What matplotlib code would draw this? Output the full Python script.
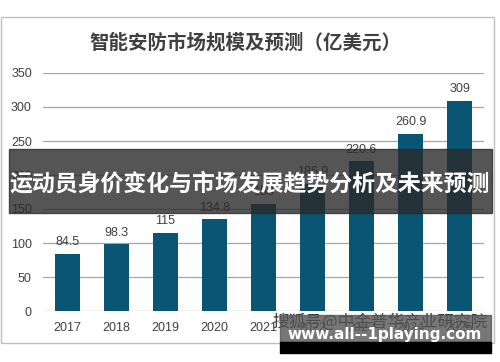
import matplotlib.pyplot as plt
from matplotlib.patches import Rectangle

plt.rcParams['font.family'] = ['Liberation Sans', 'Noto Sans CJK SC', 'DejaVu Sans']

years = ['2017', '2018', '2019', '2020', '2021', '2022', '2023', '2024', '2025']
values = [84.5, 98.3, 115, 134.8, 158, 186.9, 220.6, 260.9, 309]
labels = ['84.5', '98.3', '115', '134.8', '158', '186.9', '220.6', '260.9', '309']
yticks = [0, 50, 100, 150, 200, 250, 300, 350]

W, H = 500, 362
fig = plt.figure(figsize=(W / 100, H / 100), dpi=100)


def fx(x):
    return x / W


def fy(y):
    return 1 - y / H


# outer chart frame
fig.patches.append(Rectangle((fx(1), fy(343)), fx(493), (343 - 17) / H, transform=fig.transFigure,
                             fill=False, edgecolor='#bfbfbf', linewidth=1))

ax = fig.add_axes([fx(43), fy(311), fx(441), (311 - 73) / H])
x = range(len(years))
ax.bar(x, values, width=0.5, color='#0a5574', zorder=3)
for i, (v, t) in enumerate(zip(values, labels)):
    ax.text(i, v + 8, t, ha='center', va='bottom', fontsize=9, color='#404040')
ax.set_xlim(-0.5, len(years) - 0.5)
ax.set_ylim(0, 350)
ax.set_yticks(yticks)
ax.set_xticks(list(x))
ax.set_xticklabels(years)
ax.tick_params(length=0, labelsize=9, colors='#404040', pad=8)
ax.grid(axis='y', color='#a6a6a6', linewidth=0.9, zorder=0)
for s in ax.spines.values():
    s.set_visible(False)

fig.text(fx(245), fy(43), '智能安防市场规模及预测（亿美元）', ha='center', va='center',
         fontsize=14, color='#404040', family=['Noto Sans CJK SC', 'DejaVu Sans'], weight='bold')

# overlay banner
fig.patches.append(Rectangle((fx(9), fy(213)), fx(483), (213 - 149) / H, transform=fig.transFigure,
                             color='#2a2a2a', alpha=0.8, zorder=5))
fig.text(fx(250), fy(184), '运动员身价变化与市场发展趋势分析及未来预测', ha='center', va='center',
         fontsize=16.5, color='white', weight='bold', family=['Noto Sans CJK SC', 'DejaVu Sans'], zorder=6)

# watermark
fig.text(fx(380), fy(322), '搜狐号@中金普华产业研究院', ha='center', va='center',
         fontsize=12, color='#333333', family=['Noto Sans CJK SC', 'DejaVu Sans'], zorder=6)
fig.patches.append(Rectangle((fx(280), fy(342)), fx(211), (342 - 315) / H, transform=fig.transFigure,
                             color='#555555', alpha=0.8, zorder=7))
fig.patches.append(Rectangle((fx(280), fy(353)), fx(211), (353 - 342) / H, transform=fig.transFigure,
                             color='black', zorder=7))
fig.text(fx(385), fy(335), 'www.all--1playing.com', ha='center', va='center',
         fontsize=11, color='white', weight='bold', family='DejaVu Sans', zorder=8)

fig.savefig('out.png', dpi=100)
